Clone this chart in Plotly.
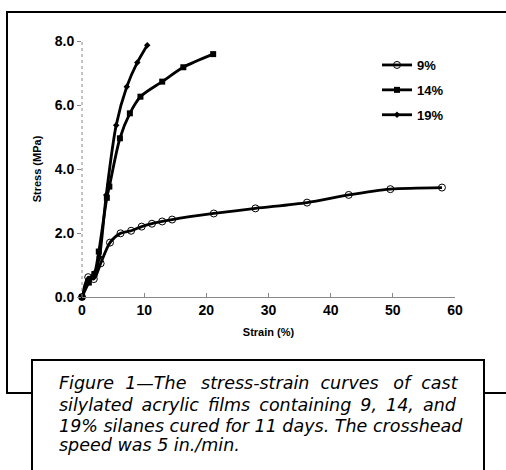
import plotly.graph_objects as go

# ---- data ----
strain_9 = [0, 1.0, 1.9, 3.0, 4.5, 6.2, 7.9, 9.6, 11.25, 12.9, 14.5, 21.2, 27.9, 36.2, 42.9, 49.6, 57.9]
stress_9 = [0, 0.62, 0.56, 1.05, 1.70, 1.99, 2.07, 2.20, 2.29, 2.36, 2.42, 2.61, 2.77, 2.95, 3.19, 3.37, 3.42]

strain_14 = [0, 1.1, 2.0, 2.7, 4.0, 4.4, 6.1, 7.7, 9.4, 12.9, 16.3, 21.1]
stress_14 = [0, 0.45, 0.72, 1.42, 3.10, 3.45, 4.96, 5.74, 6.26, 6.73, 7.18, 7.59]

strain_19 = [0, 1.0, 2.0, 2.8, 3.9, 5.5, 7.2, 8.9, 10.5]
stress_19 = [0, 0.55, 0.75, 1.25, 3.19, 5.37, 6.57, 7.33, 7.87]

series_names = ["9%", "14%", "19%"]
x_ticks = [0, 10, 20, 30, 40, 50, 60]
y_ticks = [0, 2, 4, 6, 8]
y_ticklabels = ["0.0", "2.0", "4.0", "6.0", "8.0"]

NB = "\u00a0"
TS = "\u2009"
caption_lines = [
    ("Figure" + NB + NB + "1\u2014The" + NB + NB + TS + "stress-strain" + NB + NB + "curves" + NB + NB + TS + "of" + NB + NB + "cast"),
    ("silylated" + NB + TS + "acrylic" + NB + TS + "films" + NB + TS + "containing" + NB + TS + "9," + NB + TS + "14," + NB + TS + "and"),
    "19% silanes cured for 11 days. The crosshead",
    "speed was 5 in./min.",
]

# ---- geometry ----
W, H = 506, 470
L, R, T, B = 82, 455, 41, 297  # plot area in px


def px(x):
    return (x - L) / (R - L)


def py(y):
    return (B - y) / (B - T)


fig = go.Figure()

line_style = dict(color="black", width=2.8, shape="spline", smoothing=0.8)
fig.add_trace(go.Scatter(
    x=strain_9, y=stress_9, name=series_names[0], mode="lines+markers",
    line=line_style, legendgroup="a",
    marker=dict(symbol="circle-open", size=7, color="black", line=dict(width=1, color="black")),
    cliponaxis=False))
fig.add_trace(go.Scatter(
    x=strain_14, y=stress_14, name=series_names[1], mode="lines+markers",
    line=line_style, legendgroup="b",
    marker=dict(symbol="square", size=6, color="black"),
    cliponaxis=False))
fig.add_trace(go.Scatter(
    x=strain_19, y=stress_19, name=series_names[2], mode="lines+markers",
    line=line_style, legendgroup="c",
    marker=dict(symbol="diamond", size=5, color="black"),
    cliponaxis=False))

fig.update_xaxes(
    range=[0, 60], tickvals=x_ticks, ticktext=[str(v) for v in x_ticks],
    showgrid=False, zeroline=False, showline=True, linecolor="#888", linewidth=1,
    ticks="inside", ticklen=4, tickcolor="#888", tickwidth=1,
    tickfont=dict(family="Liberation Sans", size=14, color="black", weight="bold"),
    title=dict(text="<b>Strain (%)</b>", font=dict(family="Liberation Sans", size=11, color="black"),
               standoff=11),
)
fig.update_yaxes(
    range=[0, 8], tickvals=y_ticks, ticktext=y_ticklabels,
    showgrid=False, zeroline=False, showline=False,
    ticks="outside", ticklen=4, tickcolor="#888", tickwidth=1,
    tickfont=dict(family="Liberation Sans", size=14, color="black", weight="bold"),
    title=dict(text="<b>Stress (MPa)</b>", font=dict(family="Liberation Sans", size=11, color="black"),
               standoff=10),
)

shapes = []
# dotted y axis line
shapes.append(dict(type="line", xref="paper", yref="paper", x0=0, x1=0, y0=0, y1=1,
                   line=dict(color="#888", width=1, dash="dot")))
frame = dict(color="black", width=2)
# outer frame: top, left, bottom-left stub
shapes.append(dict(type="path", xref="paper", yref="paper",
                   path=f"M {px(510)} {py(12)} L {px(7)} {py(12)} L {px(7)} {py(393)} L {px(32)} {py(393)}",
                   line=frame))
# caption box
shapes.append(dict(type="path", xref="paper", yref="paper",
                   path=f"M {px(32)} {py(475)} L {px(32)} {py(360)} L {px(484)} {py(360)} L {px(484)} {py(475)}",
                   line=frame))
# right stub
shapes.append(dict(type="line", xref="paper", yref="paper",
                   x0=px(484), x1=px(510), y0=py(393), y1=py(393), line=frame))

annotations = []
line_y = [383, 405, 426, 445]
for txt, yy in zip(caption_lines, line_y):
    annotations.append(dict(
        text=txt, xref="paper", yref="paper", x=px(57), y=py(yy),
        xanchor="left", yanchor="middle", showarrow=False,
        font=dict(family="DejaVu Sans", size=17.5, color="black", style="italic"),
    ))

fig.update_layout(
    width=W, height=H,
    margin=dict(l=L, r=W - R, t=T, b=H - B, pad=0),
    paper_bgcolor="white", plot_bgcolor="white",
    showlegend=True,
    legend=dict(x=px(377), y=py(50), xanchor="left", yanchor="top",
                font=dict(family="Liberation Sans", size=13, color="black", weight="bold"),
                itemwidth=30, tracegroupgap=5, bgcolor="rgba(0,0,0,0)"),
    shapes=shapes, annotations=annotations,
)

fig.write_html("out.html")
